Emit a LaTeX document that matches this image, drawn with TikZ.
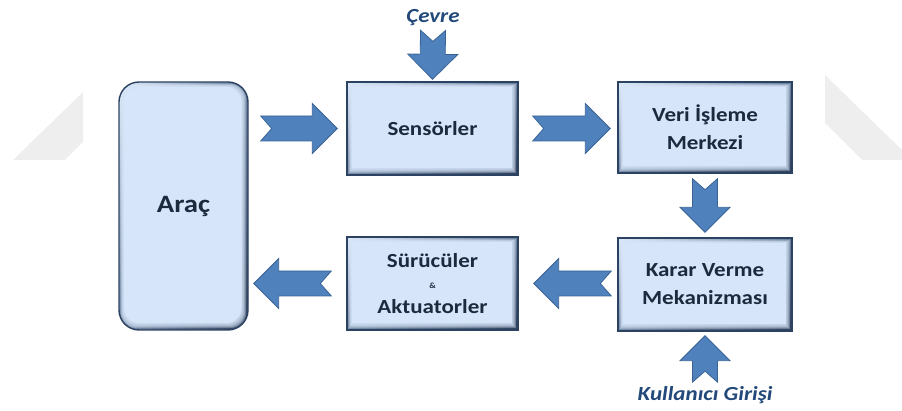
\documentclass[tikz,border=0pt]{standalone}
\usepackage{fontspec}
\setmainfont{Carlito}[FakeStretch=1.15]
\usetikzlibrary{calc,shadings}

\definecolor{edge}{HTML}{2C4262}
\definecolor{bevUL}{HTML}{DDE9F8}
\definecolor{bevUR}{HTML}{6F849F}
\definecolor{bevLL}{HTML}{7C90AA}
\definecolor{bevLR}{HTML}{2F405A}
\definecolor{facecol}{HTML}{D6E5F9}
\definecolor{ink}{HTML}{1C2A3D}
\definecolor{cue}{HTML}{22497A}
\definecolor{arrowfill}{HTML}{4F81BD}
\definecolor{arrowline}{HTML}{3A6496}
\definecolor{faintgrey}{HTML}{EEEEEE}

\tikzset{
  bevelface/.style={
    path picture={
      \foreach \k in {0,...,5}
        \fill[facecol, opacity=0.35, rounded corners=#1]
          ($(path picture bounding box.south west)+(2+0.6*\k,-2-\k)$) rectangle
          ($(path picture bounding box.north east)+(-2-0.9*\k,2+0.6*\k)$);
      \fill[facecol, rounded corners=#1]
        ($(path picture bounding box.south west)+(5,-7)$) rectangle
        ($(path picture bounding box.north east)+(-6.5,5)$);}},
  blk/.style={draw=edge, line width=1.4pt,
    upper left=bevUL, upper right=bevUR, lower left=bevLL, lower right=bevLR,
    inner sep=0pt, align=center, text=ink,
    font=\bfseries\fontsize{20}{28}\selectfont, bevelface=0pt},
  roundblk/.style={blk, rounded corners=20pt, bevelface=15pt},
  cuetext/.style={inner sep=0pt, text=cue, font=\bfseries\itshape\fontsize{20}{24}\selectfont},
  arrowbody/.style={fill=arrowfill, draw=arrowline, line width=0.8pt, line join=miter},
  backmark/.style={fill=faintgrey},
}

% notched block arrow from #1 to #2
\newcommand\fatarrow[2]{%
  \path[arrowbody] let \p1=(#1), \p2=(#2),
    \n1={atan2(\y2-\y1,\x2-\x1)}, \n2={veclen(\x2-\x1,\y2-\y1)} in
    ($(\p1)+({\n1+90}:12.5pt)$) --
    ($(\p1)+({\n1}:{\n2-25pt})+({\n1+90}:12.5pt)$) --
    ($(\p1)+({\n1}:{\n2-25pt})+({\n1+90}:25pt)$) --
    (\p2) --
    ($(\p1)+({\n1}:{\n2-25pt})+({\n1-90}:25pt)$) --
    ($(\p1)+({\n1}:{\n2-25pt})+({\n1-90}:12.5pt)$) --
    ($(\p1)+({\n1-90}:12.5pt)$) --
    ($(\p1)+({\n1}:11pt)$) -- cycle;}

\begin{document}
\begin{tikzpicture}[x=1pt, y=-1pt]
  \useasboundingbox (0,0) rectangle (902,411);

  % faint background marks
  \fill[backmark] (83,92) -- (83,142) -- (65,160) -- (13,160) -- cycle;
  \fill[backmark] (825,75) -- (902,150) -- (902,160) -- (862,160) -- (825,123) -- cycle;

  % blocks
  \node[roundblk, minimum width=129pt, minimum height=248pt] (arac) at (183.5,206)
    {\fontsize{25}{28}\selectfont Araç};
  \node[blk, minimum width=171pt, minimum height=93pt] (sens) at (432.5,128.5) {Sensörler};
  \node[blk, minimum width=174pt, minimum height=91pt] (veri) at (705,127.5)
    {Veri İşleme\\Merkezi};
  \node[blk, minimum width=174pt, minimum height=93pt] (karar) at (705,284.5)
    {Karar Verme\\Mekanizması};
  \node[blk, minimum width=171pt, minimum height=93pt] (suru) at (432.5,283.5)
    {Sürücüler\\[-7pt]{\fontsize{8}{8}\selectfont\&}\\[-3pt]Aktuatorler};

  % inputs from outside
  \node[cuetext] (cevre) at (433,18) {Çevre};
  \node[cuetext] (kul) at (705,395) {Kullanıcı Girişi};

  % flow
  \fatarrow{$(arac.east|-sens.west)+(12,0)$}{$(sens.west)+(-9,0)$}
  \fatarrow{$(sens.east)+(14,0)$}{$(veri.west|-sens.west)+(-7,0)$}
  \fatarrow{$(veri.south)+(0,5)$}{$(karar.north)+(0,-5)$}
  \fatarrow{$(karar.west|-suru.east)+(-6,0)$}{$(suru.east)+(15,0)$}
  \fatarrow{$(suru.west)+(-15,0)$}{$(arac.east|-suru.west)+(5,0)$}
  \fatarrow{$(cevre.south)+(0,4)$}{$(sens.north)+(0,-2)$}
  \fatarrow{$(kul.north)+(0,-4)$}{$(karar.south)+(0,4)$}
\end{tikzpicture}
\end{document}
